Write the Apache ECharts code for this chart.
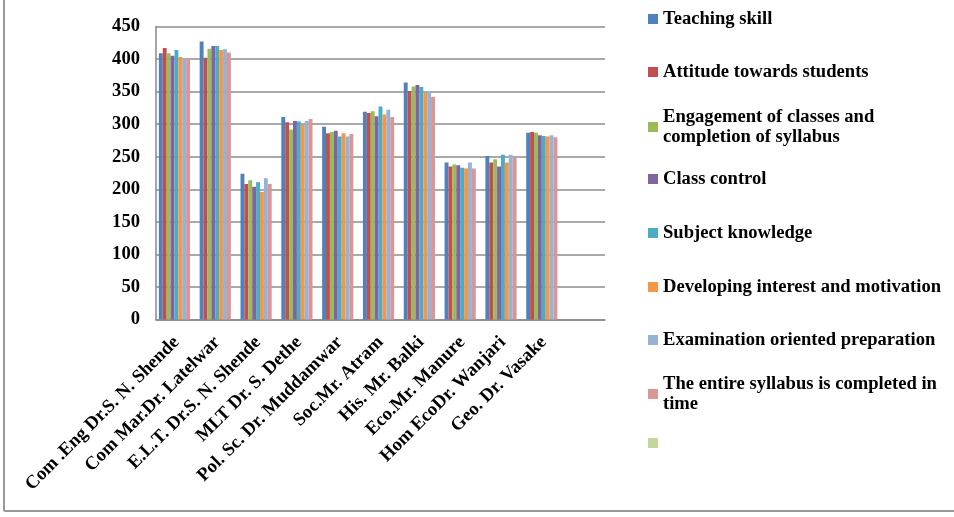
<!DOCTYPE html>
<html>
<head>
<meta charset="utf-8">
<title>Teacher evaluation</title>
<script src="https://cdn.jsdelivr.net/npm/echarts@6/dist/echarts.min.js"></script>
<style>
  html, body { margin: 0; padding: 0; background: #fff; }
  #chart { width: 954px; height: 517px; }
</style>
</head>
<body>
<div id="chart"></div>
<script>
// categories (last one is an empty slot, as in the original sheet)
const teachers = [
  'Com .Eng Dr.S. N. Shende', 'Com Mar.Dr. Latelwar', 'E.L.T. Dr.S. N. Shende',
  'MLT Dr. S. Dethe', 'Pol. Sc. Dr. Muddamwar', 'Soc.Mr. Atram', 'His. Mr. Balki',
  'Eco.Mr. Manure', 'Hom EcoDr. Wanjari', 'Geo. Dr. Vasake', ''
]

const seriesNames = [
  'Teaching skill',
  'Attitude towards students',
  'Engagement of classes and completion of syllabus',
  'Class control',
  'Subject knowledge',
  'Developing interest and motivation',
  'Examination oriented preparation',
  'The entire syllabus is completed in time',
  ' '
]

const teachingSkill = [409, 427, 224, 311, 296, 319, 364, 241, 251, 287]
const attitude = [417, 402, 208, 303, 286, 317, 351, 235, 241, 288]
const engagement = [409, 416, 214, 292, 288, 320, 358, 238, 246, 287]
const classControl = [405, 420, 204, 305, 290, 312, 360, 237, 235, 283]
const subjectKnowledge = [414, 420, 211, 304, 281, 327, 357, 233, 253, 282]
const developingInterest = [403, 414, 196, 299, 286, 315, 349, 232, 241, 281]
const examPreparation = [400, 415, 217, 305, 281, 322, 351, 241, 253, 283]
const syllabusCompleted = [400, 410, 208, 308, 285, 311, 342, 232, 248, 280]
const emptySeries = []

const yTicks = [0, 50, 100, 150, 200, 250, 300, 350, 400, 450]

const colors = ['#4f81bd', '#c0504d', '#9bbb59', '#8064a2', '#4bacc6', '#f79646', '#95b3d7', '#d99694', '#c3d69b']
const allData = [teachingSkill, attitude, engagement, classControl, subjectKnowledge,
  developingInterest, examPreparation, syllabusCompleted, emptySeries]

// legend text wraps like the original
const legendLabels = {
  'Engagement of classes and completion of syllabus': 'Engagement of classes and\ncompletion of syllabus',
  'The entire syllabus is completed in time': 'The entire syllabus is completed in\ntime'
}
const legendCenters = [19, 72, 127, 179, 233, 287, 340, 394, 448]

const font = '"Liberation Serif", "Times New Roman", serif'

const chart = echarts.init(document.getElementById('chart'))

const legends = seriesNames.map((name, i) => {
  const twoLines = !!legendLabels[name]
  return {
    data: [name],
    left: 648,
    top: legendCenters[i] - (twoLines ? 30 : 10),
    padding: 0,
    itemWidth: 10,
    itemHeight: 10,
    icon: 'rect',
    selectedMode: false,
    formatter: (n) => legendLabels[n] || n.trim(),
    textStyle: {
      fontFamily: font,
      fontWeight: 'bold',
      fontSize: 18.6,
      lineHeight: 20,
      color: '#000',
      padding: twoLines ? [20, 0, 0, 0] : 0
    }
  }
})

const option = {
  animation: false,
  backgroundColor: '#fff',
  color: colors,
  legend: legends,
  grid: {
    left: 156,
    right: 349,
    top: 26.5,
    bottom: 197.5,
    containLabel: false
  },
  xAxis: {
    type: 'category',
    data: teachers,
    axisLine: { lineStyle: { color: '#888', width: 1.5 } },
    axisTick: { show: false },
    axisLabel: {
      interval: 0,
      rotate: 45,
      margin: 20,
      fontFamily: font,
      fontWeight: 'bold',
      fontSize: 18.6,
      color: '#000'
    }
  },
  yAxis: {
    type: 'value',
    min: yTicks[0],
    max: yTicks[yTicks.length - 1],
    interval: 50,
    axisLine: { show: true, lineStyle: { color: '#888', width: 1.5 } },
    axisTick: { show: false },
    splitLine: { lineStyle: { color: '#8c8c8c', width: 1.5 } },
    axisLabel: {
      margin: 16,
      fontFamily: font,
      fontWeight: 'bold',
      fontSize: 18.6,
      color: '#000'
    }
  },
  series: seriesNames.map((name, i) => ({
    name: name,
    type: 'bar',
    data: allData[i],
    barGap: '0%',
    barCategoryGap: '14%',
    itemStyle: { color: colors[i] }
  })),
  graphic: [
    // outer frame of the chart object
    { type: 'line', shape: { x1: 4, y1: 0, x2: 4, y2: 511 }, style: { stroke: '#999', lineWidth: 2 } },
    { type: 'line', shape: { x1: 4, y1: 511, x2: 954, y2: 511 }, style: { stroke: '#999', lineWidth: 2 } }
  ]
}

chart.setOption(option)
</script>
</body>
</html>
